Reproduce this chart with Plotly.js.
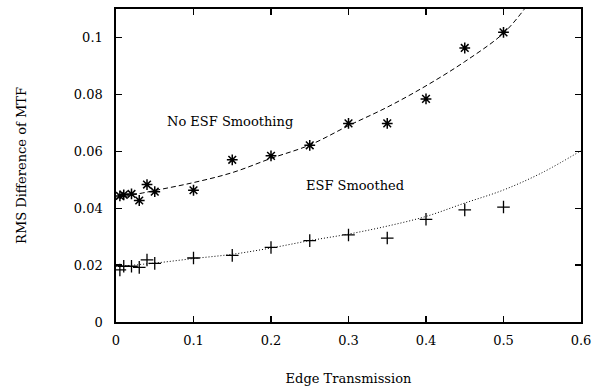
<!DOCTYPE html>
<html>
<head>
<meta charset="utf-8">
<script src="https://cdn.plot.ly/plotly-3.0.1.min.js"></script>
<style>html,body{margin:0;padding:0;background:#fff;}#chart{width:596px;height:391px;}</style>
</head>
<body>
<div id="chart"></div>
<script>
// Measured points: No ESF Smoothing
const xRaw = [0.005, 0.01, 0.02, 0.03, 0.04, 0.05, 0.1, 0.15, 0.2, 0.25, 0.3, 0.35, 0.4, 0.45, 0.5];
const yRaw = [0.0443, 0.0447, 0.0450, 0.0427, 0.0483, 0.0458, 0.0463, 0.0570, 0.0584, 0.0621, 0.0698, 0.0698, 0.0784, 0.0963, 0.1018];
// Measured points: ESF Smoothed
const xSmooth = [0.005, 0.01, 0.02, 0.03, 0.04, 0.05, 0.1, 0.15, 0.2, 0.25, 0.3, 0.35, 0.4, 0.45, 0.5];
const ySmooth = [0.0183, 0.0196, 0.0196, 0.0192, 0.0218, 0.0206, 0.0225, 0.0234, 0.0262, 0.0286, 0.0306, 0.0295, 0.0361, 0.0394, 0.0404];
// Fitted curve: No ESF Smoothing (dashed)
const xFitRaw = [0.0, 0.05, 0.1, 0.15, 0.2, 0.25, 0.3, 0.35, 0.4, 0.45, 0.5, 0.527];
const yFitRaw = [0.0435, 0.0462, 0.0490, 0.0525, 0.0575, 0.0622, 0.0690, 0.0755, 0.0830, 0.0915, 0.1015, 0.1100];
// Fitted curve: ESF Smoothed (dotted)
const xFitSmooth = [0.0, 0.05, 0.1, 0.15, 0.2, 0.25, 0.3, 0.35, 0.4, 0.45, 0.5, 0.55, 0.6];
const yFitSmooth = [0.0195, 0.0207, 0.0223, 0.0238, 0.0260, 0.0286, 0.0309, 0.0337, 0.0371, 0.0418, 0.0464, 0.0525, 0.0602];

const xTicks = [0, 0.1, 0.2, 0.3, 0.4, 0.5, 0.6];
const yTicks = [0, 0.02, 0.04, 0.06, 0.08, 0.1];

const serif = "DejaVu Serif";
const fs = 13;

const data = [
  {x: xFitRaw, y: yFitRaw, mode: 'lines', line: {color: '#000', width: 1, dash: '5px,3px', shape: 'spline'}, hoverinfo: 'skip'},
  {x: xFitSmooth, y: yFitSmooth, mode: 'lines', line: {color: '#000', width: 1, dash: '1px,2px', shape: 'spline'}, hoverinfo: 'skip'},
  {x: xRaw, y: yRaw, mode: 'markers', marker: {symbol: 'asterisk-open', size: 9, color: '#000', line: {color: '#000', width: 1.5}}},
  {x: xSmooth, y: ySmooth, mode: 'markers', marker: {symbol: 'cross-thin-open', size: 9, color: '#000', line: {color: '#000', width: 1.3}}}
];

const layout = {
  width: 596, height: 391,
  margin: {l: 116, r: 15, t: 9, b: 69},
  paper_bgcolor: '#fff', plot_bgcolor: '#fff',
  showlegend: false,
  font: {family: serif, size: fs, color: '#000'},
  xaxis: {
    range: [0, 0.6], tickvals: xTicks, ticks: 'inside', ticklen: 6, tickwidth: 1.2, tickcolor: '#000',
    showline: true, linecolor: '#000', linewidth: 1.6, mirror: 'ticks', showgrid: false, zeroline: false,
    tickfont: {family: serif, size: fs, color: '#000'}, ticklabelstandoff: 6,
    title: {text: 'Edge Transmission', font: {family: serif, size: fs, color: '#000'}, standoff: 26}
  },
  yaxis: {
    range: [0, 0.11], tickvals: yTicks, ticks: 'inside', ticklen: 6, tickwidth: 1.2, tickcolor: '#000',
    showline: true, linecolor: '#000', linewidth: 1.6, mirror: 'ticks', showgrid: false, zeroline: false,
    tickfont: {family: serif, size: fs, color: '#000'}, ticklabelstandoff: 9,
    title: {text: 'RMS Difference of MTF', font: {family: serif, size: fs, color: '#000'}, standoff: 44}
  },
  annotations: [
    {x: 0.147, y: 0.0703, xref: 'x', yref: 'y', text: 'No ESF Smoothing', showarrow: false, font: {family: serif, size: fs, color: '#000'}},
    {x: 0.309, y: 0.0478, xref: 'x', yref: 'y', text: 'ESF Smoothed', showarrow: false, font: {family: serif, size: fs, color: '#000'}}
  ]
};

Plotly.newPlot('chart', data, layout, {staticPlot: true, displayModeBar: false});
</script>
</body>
</html>
